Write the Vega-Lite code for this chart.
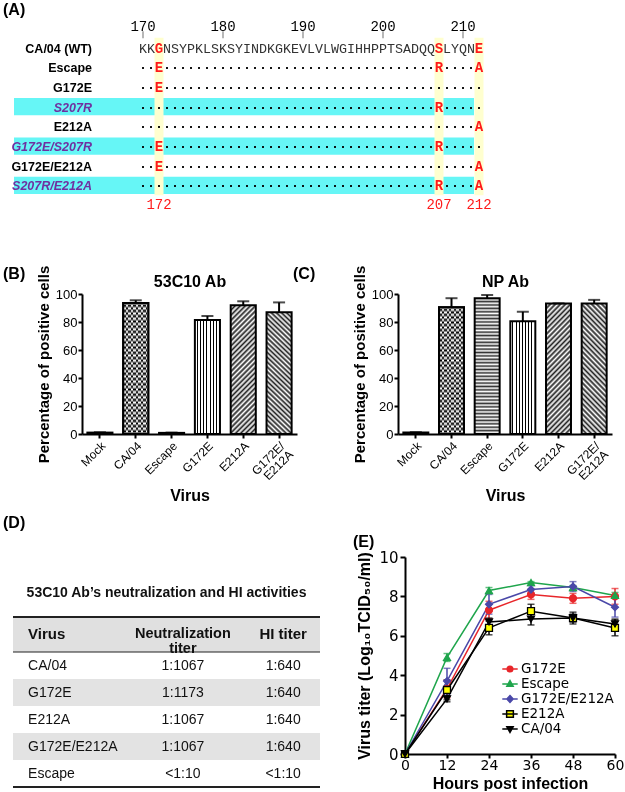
{
  "$schema": "https://vega.github.io/schema/vega-lite/v6.json",
  "background": "white",
  "padding": {"left": 3, "top": 2, "right": 0, "bottom": 0},
  "config": {
    "view": {"stroke": null},
    "font": "Liberation Sans",
    "title": {"font": "Liberation Sans", "fontSize": 16, "fontWeight": "bold", "color": "#000"},
    "axis": {"grid": false, "labelOverlap": false, "domainColor": "#000", "tickColor": "#000", "labelColor": "#000", "titleColor": "#000", "labelFont": "Liberation Sans", "titleFont": "Liberation Sans"}
  },
  "datasets": {
    "seqrows": [
      {"virus": "CA/04 (WT)"}, {"virus": "Escape"}, {"virus": "G172E"}, {"virus": "S207R"},
      {"virus": "E212A"}, {"virus": "G172E/S207R"}, {"virus": "G172E/E212A"}, {"virus": "S207R/E212A"}
    ],
    "segments": [
      {"virus": "CA/04 (WT)", "start": 170, "seq": "KK"},
      {"virus": "CA/04 (WT)", "start": 173, "seq": "NSYPKLSKSYINDKGKEVLVLWGIHHPPTSADQQ"},
      {"virus": "CA/04 (WT)", "start": 208, "seq": "LYQN"},
      {"virus": "Escape", "start": 170, "seq": "··"},
      {"virus": "Escape", "start": 173, "seq": "··································"},
      {"virus": "Escape", "start": 208, "seq": "····"},
      {"virus": "G172E", "start": 170, "seq": "··"},
      {"virus": "G172E", "start": 173, "seq": "········································"},
      {"virus": "S207R", "start": 170, "seq": "·····································"},
      {"virus": "S207R", "start": 208, "seq": "·····"},
      {"virus": "E212A", "start": 170, "seq": "··········································"},
      {"virus": "G172E/S207R", "start": 170, "seq": "··"},
      {"virus": "G172E/S207R", "start": 173, "seq": "··································"},
      {"virus": "G172E/S207R", "start": 208, "seq": "·····"},
      {"virus": "G172E/E212A", "start": 170, "seq": "··"},
      {"virus": "G172E/E212A", "start": 173, "seq": "·······································"},
      {"virus": "S207R/E212A", "start": 170, "seq": "·····································"},
      {"virus": "S207R/E212A", "start": 208, "seq": "····"}
    ],
    "mutations": [
      {"virus": "CA/04 (WT)", "pos": 172, "aa": "G"},
      {"virus": "CA/04 (WT)", "pos": 207, "aa": "S"},
      {"virus": "CA/04 (WT)", "pos": 212, "aa": "E"},
      {"virus": "Escape", "pos": 172, "aa": "E"},
      {"virus": "Escape", "pos": 207, "aa": "R"},
      {"virus": "Escape", "pos": 212, "aa": "A"},
      {"virus": "G172E", "pos": 172, "aa": "E"},
      {"virus": "S207R", "pos": 207, "aa": "R"},
      {"virus": "E212A", "pos": 212, "aa": "A"},
      {"virus": "G172E/S207R", "pos": 172, "aa": "E"},
      {"virus": "G172E/S207R", "pos": 207, "aa": "R"},
      {"virus": "G172E/E212A", "pos": 172, "aa": "E"},
      {"virus": "G172E/E212A", "pos": 212, "aa": "A"},
      {"virus": "S207R/E212A", "pos": 207, "aa": "R"},
      {"virus": "S207R/E212A", "pos": 212, "aa": "A"}
    ],
    "ruler": [{"pos": 170}, {"pos": 180}, {"pos": 190}, {"pos": 200}, {"pos": 210}],
    "sites": [{"pos": 172}, {"pos": 207}, {"pos": 212}],
    "ab53": [
      {"virus": "Mock", "mean": 1.0, "hi": 1.3},
      {"virus": "CA/04", "mean": 93.5, "hi": 95.5},
      {"virus": "Escape", "mean": 0.8, "hi": 1.0},
      {"virus": "G172E", "mean": 81.5, "hi": 84.3},
      {"virus": "E212A", "mean": 92.0, "hi": 94.8},
      {"virus": "G172E/E212A", "mean": 87.0, "hi": 94.0}
    ],
    "abnp": [
      {"virus": "Mock", "mean": 1.0, "hi": 1.3},
      {"virus": "CA/04", "mean": 90.5, "hi": 97.0},
      {"virus": "Escape", "mean": 97.0, "hi": 99.3},
      {"virus": "G172E", "mean": 80.5, "hi": 87.3},
      {"virus": "E212A", "mean": 93.3, "hi": 93.3},
      {"virus": "G172E/E212A", "mean": 93.3, "hi": 95.8}
    ],
    "table": [
      {"virus": "CA/04", "neut": "1:1067", "hi": "1:640"},
      {"virus": "G172E", "neut": "1:1173", "hi": "1:640"},
      {"virus": "E212A", "neut": "1:1067", "hi": "1:640"},
      {"virus": "G172E/E212A", "neut": "1:1067", "hi": "1:640"},
      {"virus": "Escape", "neut": "<1:10", "hi": "<1:10"}
    ],
    "growth": [
      {"series": "G172E", "hours": 0, "mean": 0, "lo": 0, "hi": 0},
      {"series": "G172E", "hours": 12, "mean": 3.3, "lo": 2.85, "hi": 3.75},
      {"series": "G172E", "hours": 24, "mean": 7.3, "lo": 6.85, "hi": 7.75},
      {"series": "G172E", "hours": 36, "mean": 8.1, "lo": 7.85, "hi": 8.35},
      {"series": "G172E", "hours": 48, "mean": 7.9, "lo": 7.65, "hi": 8.15},
      {"series": "G172E", "hours": 60, "mean": 8.0, "lo": 7.6, "hi": 8.4},
      {"series": "Escape", "hours": 0, "mean": 0, "lo": 0, "hi": 0},
      {"series": "Escape", "hours": 12, "mean": 4.9, "lo": 4.7, "hi": 5.1},
      {"series": "Escape", "hours": 24, "mean": 8.3, "lo": 8.15, "hi": 8.45},
      {"series": "Escape", "hours": 36, "mean": 8.7, "lo": 8.65, "hi": 8.75},
      {"series": "Escape", "hours": 48, "mean": 8.45, "lo": 8.35, "hi": 8.55},
      {"series": "Escape", "hours": 60, "mean": 8.05, "lo": 7.9, "hi": 8.2},
      {"series": "G172E/E212A", "hours": 0, "mean": 0, "lo": 0, "hi": 0},
      {"series": "G172E/E212A", "hours": 12, "mean": 3.7, "lo": 3.05, "hi": 4.35},
      {"series": "G172E/E212A", "hours": 24, "mean": 7.6, "lo": 7.1, "hi": 8.1},
      {"series": "G172E/E212A", "hours": 36, "mean": 8.35, "lo": 8.15, "hi": 8.55},
      {"series": "G172E/E212A", "hours": 48, "mean": 8.5, "lo": 8.25, "hi": 8.75},
      {"series": "G172E/E212A", "hours": 60, "mean": 7.45, "lo": 6.95, "hi": 7.95},
      {"series": "E212A", "hours": 0, "mean": 0, "lo": 0, "hi": 0},
      {"series": "E212A", "hours": 12, "mean": 3.25, "lo": 2.75, "hi": 3.75},
      {"series": "E212A", "hours": 24, "mean": 6.4, "lo": 6.05, "hi": 6.75},
      {"series": "E212A", "hours": 36, "mean": 7.25, "lo": 6.9, "hi": 7.6},
      {"series": "E212A", "hours": 48, "mean": 6.9, "lo": 6.7, "hi": 7.1},
      {"series": "E212A", "hours": 60, "mean": 6.4, "lo": 6.0, "hi": 6.8},
      {"series": "CA/04", "hours": 0, "mean": 0, "lo": 0, "hi": 0},
      {"series": "CA/04", "hours": 12, "mean": 2.8, "lo": 2.65, "hi": 2.95},
      {"series": "CA/04", "hours": 24, "mean": 6.7, "lo": 6.5, "hi": 6.9},
      {"series": "CA/04", "hours": 36, "mean": 6.85, "lo": 6.55, "hi": 7.15},
      {"series": "CA/04", "hours": 48, "mean": 6.9, "lo": 6.6, "hi": 7.2},
      {"series": "CA/04", "hours": 60, "mean": 6.6, "lo": 6.35, "hi": 6.85}
    ]
  },
  "spacing": 50,
  "vconcat": [
    {
      "width": 518,
      "height": 197,
      "title": {"text": "(A)", "anchor": "start", "frame": "group", "dx": -79, "offset": 0},
      "layer": [
        {
          "data": {"name": "seqrows"},
          "transform": [{"filter": "indexof(datum.virus, 'S207R') >= 0"}],
          "mark": {"type": "bar", "color": "#66f6f6", "orient": "horizontal", "height": {"band": 0.88}},
          "encoding": {
            "y": {"field": "virus", "type": "nominal", "scale": {"type": "band", "domain": ["ruler", "CA/04 (WT)", "Escape", "G172E", "S207R", "E212A", "G172E/S207R", "G172E/E212A", "S207R/E212A", "pos"], "paddingInner": 0, "paddingOuter": 0}, "axis": null},
            "x": {"datum": 153.875, "type": "quantitative", "scale": {"domain": [162.375, 227.125], "nice": false, "zero": false}, "axis": null},
            "x2": {"datum": 211.375}
          }
        },
        {
          "data": {"name": "sites"},
          "mark": {"type": "rule", "color": "#ffffcf", "strokeWidth": 9},
          "encoding": {
            "x": {"field": "pos", "type": "quantitative"},
            "y": {"datum": "CA/04 (WT)", "type": "nominal", "bandPosition": 0},
            "y2": {"datum": "S207R/E212A", "bandPosition": 1}
          }
        },
        {
          "data": {"name": "ruler"},
          "mark": {"type": "text", "font": "Liberation Mono", "fontSize": 14, "baseline": "middle", "yOffset": -1, "color": "#000"},
          "encoding": {
            "x": {"field": "pos", "type": "quantitative"},
            "y": {"datum": "ruler", "type": "nominal"},
            "text": {"field": "pos", "type": "quantitative"}
          }
        },
        {
          "data": {"name": "ruler"},
          "mark": {"type": "tick", "size": 7, "thickness": 1, "color": "#333", "yOffset": 7},
          "encoding": {
            "x": {"field": "pos", "type": "quantitative"},
            "y": {"datum": "ruler", "type": "nominal"}
          }
        },
        {
          "data": {"name": "seqrows"},
          "transform": [{"filter": "indexof(datum.virus, 'S207R') < 0"}],
          "mark": {"type": "text", "align": "right", "baseline": "middle", "fontSize": 12.5, "fontWeight": "bold", "color": "#000", "yOffset": 1},
          "encoding": {
            "x": {"datum": 163.625, "type": "quantitative"},
            "y": {"field": "virus", "type": "nominal"},
            "text": {"field": "virus"}
          }
        },
        {
          "data": {"name": "seqrows"},
          "transform": [{"filter": "indexof(datum.virus, 'S207R') >= 0"}],
          "mark": {"type": "text", "align": "right", "baseline": "middle", "fontSize": 12.5, "fontWeight": "bold", "fontStyle": "italic", "color": "#7030a0", "yOffset": 1},
          "encoding": {
            "x": {"datum": 163.625, "type": "quantitative"},
            "y": {"field": "virus", "type": "nominal"},
            "text": {"field": "virus"}
          }
        },
        {
          "data": {"name": "segments"},
          "transform": [{"filter": "datum.virus === 'CA/04 (WT)'"}],
          "mark": {"type": "text", "align": "left", "baseline": "middle", "font": "Liberation Mono", "fontSize": 13.333, "color": "#333", "xOffset": -4, "yOffset": 1},
          "encoding": {
            "x": {"field": "start", "type": "quantitative"},
            "y": {"field": "virus", "type": "nominal"},
            "text": {"field": "seq"}
          }
        },
        {
          "data": {"name": "segments"},
          "transform": [{"filter": "datum.virus !== 'CA/04 (WT)'"}],
          "mark": {"type": "text", "align": "left", "baseline": "middle", "font": "Liberation Mono", "fontSize": 13.333, "fontWeight": "bold", "color": "#000", "xOffset": -4, "yOffset": 1},
          "encoding": {
            "x": {"field": "start", "type": "quantitative"},
            "y": {"field": "virus", "type": "nominal"},
            "text": {"field": "seq"}
          }
        },
        {
          "data": {"name": "mutations"},
          "mark": {"type": "text", "align": "center", "baseline": "middle", "font": "Liberation Mono", "fontSize": 14, "fontWeight": "bold", "color": "#ff1a1a", "yOffset": 1},
          "encoding": {
            "x": {"field": "pos", "type": "quantitative"},
            "y": {"field": "virus", "type": "nominal"},
            "text": {"field": "aa"}
          }
        },
        {
          "data": {"name": "sites"},
          "mark": {"type": "text", "align": "center", "baseline": "middle", "font": "Liberation Mono", "fontSize": 14, "color": "#ff1a1a"},
          "encoding": {
            "x": {"field": "pos", "type": "quantitative"},
            "y": {"datum": "pos", "type": "nominal"},
            "text": {"field": "pos", "type": "quantitative"}
          }
        }
      ]
    },
    {
      "spacing": 11,
      "vconcat": [
        {
          "bounds": "flush",
          "spacing": 101,
          "hconcat": [
            {
              "width": 215,
              "height": 140,
              "title": {"text": "(B)", "anchor": "start", "frame": "group", "dx": -79, "offset": -17},
              "data": {"name": "ab53"},
              "layer": [
                {
                  "mark": {"type": "bar", "stroke": "#000", "strokeWidth": 2},
                  "encoding": {
                    "x": {"field": "virus", "type": "nominal", "sort": ["Mock", "CA/04", "Escape", "G172E", "E212A", "G172E/E212A"], "scale": {"paddingInner": 0.3, "paddingOuter": 0.15},
                      "axis": {"title": "Virus", "labelAngle": -45, "labelAlign": "right", "labelBaseline": "top", "labelFontSize": 12, "labelLineHeight": 12, "labelExpr": "datum.value == 'G172E/E212A' ? ['G172E/', 'E212A'] : datum.label", "titleFontSize": 16, "titleFontWeight": "bold", "titlePadding": 2, "domainWidth": 2, "tickWidth": 2, "tickSize": 4, "labelPadding": 2}},
                    "y": {"field": "mean", "type": "quantitative", "scale": {"domain": [0, 100], "nice": false},
                      "axis": {"title": "Percentage of positive cells", "values": [0, 20, 40, 60, 80, 100], "labelOverlap": false, "titleFontSize": 15, "titleFontWeight": "bold", "labelFontSize": 13, "domainWidth": 2, "tickWidth": 2, "tickSize": 4, "labelPadding": 1, "titlePadding": 4}},
                    "fill": {"condition": [
                      {"test": "datum.virus === 'G172E'", "value": {"gradient": "linear", "x1": 0, "y1": 0, "x2": 1, "y2": 0, "stops": [
                        {"offset": 0, "color": "#fff"}, {"offset": 0.084, "color": "#fff"}, {"offset": 0.084, "color": "#000"}, {"offset": 0.125, "color": "#000"},
                        {"offset": 0.125, "color": "#fff"}, {"offset": 0.209, "color": "#fff"}, {"offset": 0.209, "color": "#000"}, {"offset": 0.25, "color": "#000"},
                        {"offset": 0.25, "color": "#fff"}, {"offset": 0.334, "color": "#fff"}, {"offset": 0.334, "color": "#000"}, {"offset": 0.375, "color": "#000"},
                        {"offset": 0.375, "color": "#fff"}, {"offset": 0.459, "color": "#fff"}, {"offset": 0.459, "color": "#000"}, {"offset": 0.5, "color": "#000"},
                        {"offset": 0.5, "color": "#fff"}, {"offset": 0.584, "color": "#fff"}, {"offset": 0.584, "color": "#000"}, {"offset": 0.625, "color": "#000"},
                        {"offset": 0.625, "color": "#fff"}, {"offset": 0.709, "color": "#fff"}, {"offset": 0.709, "color": "#000"}, {"offset": 0.75, "color": "#000"},
                        {"offset": 0.75, "color": "#fff"}, {"offset": 0.834, "color": "#fff"}, {"offset": 0.834, "color": "#000"}, {"offset": 0.875, "color": "#000"},
                        {"offset": 0.875, "color": "#fff"}, {"offset": 1, "color": "#fff"}]}},
                      {"test": "datum.virus === 'E212A'", "value": {"gradient": "linear", "x1": 0, "y1": 0, "x2": 1, "y2": 5.1, "stops": [
                        {"offset": 0, "color": "#222"}, {"offset": 0.00375, "color": "#fff"}, {"offset": 0.0075, "color": "#222"}, {"offset": 0.01125, "color": "#fff"},
                        {"offset": 0.015, "color": "#222"}, {"offset": 0.01875, "color": "#fff"}, {"offset": 0.0225, "color": "#222"}, {"offset": 0.02625, "color": "#fff"},
                        {"offset": 0.03, "color": "#222"}, {"offset": 0.03375, "color": "#fff"}, {"offset": 0.0375, "color": "#222"}, {"offset": 0.04125, "color": "#fff"},
                        {"offset": 0.045, "color": "#222"}, {"offset": 0.04875, "color": "#fff"}, {"offset": 0.0525, "color": "#222"}, {"offset": 0.05625, "color": "#fff"},
                        {"offset": 0.06, "color": "#222"}, {"offset": 0.06375, "color": "#fff"}, {"offset": 0.0675, "color": "#222"}, {"offset": 0.07125, "color": "#fff"},
                        {"offset": 0.075, "color": "#222"}, {"offset": 0.07875, "color": "#fff"}, {"offset": 0.0825, "color": "#222"}, {"offset": 0.08625, "color": "#fff"},
                        {"offset": 0.09, "color": "#222"}, {"offset": 0.09375, "color": "#fff"}, {"offset": 0.0975, "color": "#222"}, {"offset": 0.10125, "color": "#fff"},
                        {"offset": 0.105, "color": "#222"}, {"offset": 0.10875, "color": "#fff"}, {"offset": 0.1125, "color": "#222"}, {"offset": 0.11625, "color": "#fff"},
                        {"offset": 0.12, "color": "#222"}, {"offset": 0.12375, "color": "#fff"}, {"offset": 0.1275, "color": "#222"}, {"offset": 0.13125, "color": "#fff"},
                        {"offset": 0.135, "color": "#222"}, {"offset": 0.13875, "color": "#fff"}, {"offset": 0.1425, "color": "#222"}, {"offset": 0.14625, "color": "#fff"},
                        {"offset": 0.15, "color": "#222"}, {"offset": 0.15375, "color": "#fff"}, {"offset": 0.1575, "color": "#222"}, {"offset": 0.16125, "color": "#fff"},
                        {"offset": 0.165, "color": "#222"}, {"offset": 0.16875, "color": "#fff"}, {"offset": 0.1725, "color": "#222"}, {"offset": 0.17625, "color": "#fff"},
                        {"offset": 0.18, "color": "#222"}, {"offset": 0.18375, "color": "#fff"}, {"offset": 0.1875, "color": "#222"}, {"offset": 0.19125, "color": "#fff"},
                        {"offset": 0.195, "color": "#222"}, {"offset": 0.19875, "color": "#fff"}, {"offset": 0.2025, "color": "#222"}, {"offset": 0.20625, "color": "#fff"},
                        {"offset": 0.21, "color": "#222"}, {"offset": 0.21375, "color": "#fff"}, {"offset": 0.2175, "color": "#222"}, {"offset": 0.22125, "color": "#fff"},
                        {"offset": 0.225, "color": "#222"}, {"offset": 0.22875, "color": "#fff"}, {"offset": 0.2325, "color": "#222"}]}},
                      {"test": "datum.virus === 'G172E/E212A'", "value": {"gradient": "linear", "x1": 0, "y1": 1, "x2": 1, "y2": -4.1, "stops": [
                        {"offset": 0, "color": "#222"}, {"offset": 0.00375, "color": "#fff"}, {"offset": 0.0075, "color": "#222"}, {"offset": 0.01125, "color": "#fff"},
                        {"offset": 0.015, "color": "#222"}, {"offset": 0.01875, "color": "#fff"}, {"offset": 0.0225, "color": "#222"}, {"offset": 0.02625, "color": "#fff"},
                        {"offset": 0.03, "color": "#222"}, {"offset": 0.03375, "color": "#fff"}, {"offset": 0.0375, "color": "#222"}, {"offset": 0.04125, "color": "#fff"},
                        {"offset": 0.045, "color": "#222"}, {"offset": 0.04875, "color": "#fff"}, {"offset": 0.0525, "color": "#222"}, {"offset": 0.05625, "color": "#fff"},
                        {"offset": 0.06, "color": "#222"}, {"offset": 0.06375, "color": "#fff"}, {"offset": 0.0675, "color": "#222"}, {"offset": 0.07125, "color": "#fff"},
                        {"offset": 0.075, "color": "#222"}, {"offset": 0.07875, "color": "#fff"}, {"offset": 0.0825, "color": "#222"}, {"offset": 0.08625, "color": "#fff"},
                        {"offset": 0.09, "color": "#222"}, {"offset": 0.09375, "color": "#fff"}, {"offset": 0.0975, "color": "#222"}, {"offset": 0.10125, "color": "#fff"},
                        {"offset": 0.105, "color": "#222"}, {"offset": 0.10875, "color": "#fff"}, {"offset": 0.1125, "color": "#222"}, {"offset": 0.11625, "color": "#fff"},
                        {"offset": 0.12, "color": "#222"}, {"offset": 0.12375, "color": "#fff"}, {"offset": 0.1275, "color": "#222"}, {"offset": 0.13125, "color": "#fff"},
                        {"offset": 0.135, "color": "#222"}, {"offset": 0.13875, "color": "#fff"}, {"offset": 0.1425, "color": "#222"}, {"offset": 0.14625, "color": "#fff"},
                        {"offset": 0.15, "color": "#222"}, {"offset": 0.15375, "color": "#fff"}, {"offset": 0.1575, "color": "#222"}, {"offset": 0.16125, "color": "#fff"},
                        {"offset": 0.165, "color": "#222"}, {"offset": 0.16875, "color": "#fff"}, {"offset": 0.1725, "color": "#222"}, {"offset": 0.17625, "color": "#fff"},
                        {"offset": 0.18, "color": "#222"}, {"offset": 0.18375, "color": "#fff"}, {"offset": 0.1875, "color": "#222"}, {"offset": 0.19125, "color": "#fff"},
                        {"offset": 0.195, "color": "#222"}, {"offset": 0.19875, "color": "#fff"}, {"offset": 0.2025, "color": "#222"}, {"offset": 0.20625, "color": "#fff"},
                        {"offset": 0.21, "color": "#222"}, {"offset": 0.21375, "color": "#fff"}, {"offset": 0.2175, "color": "#222"}, {"offset": 0.22125, "color": "#fff"},
                        {"offset": 0.225, "color": "#222"}, {"offset": 0.22875, "color": "#fff"}, {"offset": 0.2325, "color": "#222"}]}},
                      {"test": "datum.virus === 'CA/04'", "value": {"gradient": "linear", "x1": 0, "y1": 0, "x2": 1, "y2": 0, "stops": [
                        {"offset": 0, "color": "#000"}, {"offset": 0.1, "color": "#000"}, {"offset": 0.1, "color": "#fff"}, {"offset": 0.2, "color": "#fff"},
                        {"offset": 0.2, "color": "#000"}, {"offset": 0.3, "color": "#000"}, {"offset": 0.3, "color": "#fff"}, {"offset": 0.4, "color": "#fff"},
                        {"offset": 0.4, "color": "#000"}, {"offset": 0.5, "color": "#000"}, {"offset": 0.5, "color": "#fff"}, {"offset": 0.6, "color": "#fff"},
                        {"offset": 0.6, "color": "#000"}, {"offset": 0.7, "color": "#000"}, {"offset": 0.7, "color": "#fff"}, {"offset": 0.8, "color": "#fff"},
                        {"offset": 0.8, "color": "#000"}, {"offset": 0.9, "color": "#000"}, {"offset": 0.9, "color": "#fff"}, {"offset": 1, "color": "#fff"}]}},
                      {"test": "datum.virus === 'Escape'", "value": "#a9a9a9"}
                    ], "value": "#777"}
                  }
                },
                {
                  "transform": [{"filter": "datum.virus === 'CA/04'"}],
                  "mark": {"type": "bar", "blend": "difference", "strokeWidth": 0, "fill": {"gradient": "linear", "x1": 0, "y1": 0, "x2": 0, "y2": 1, "stops": [
                    {"offset": 0, "color": "#fff"}, {"offset": 0.02, "color": "rgba(255,255,255,0)"}, {"offset": 0.04, "color": "#fff"}, {"offset": 0.06, "color": "rgba(255,255,255,0)"},
                    {"offset": 0.08, "color": "#fff"}, {"offset": 0.1, "color": "rgba(255,255,255,0)"}, {"offset": 0.12, "color": "#fff"}, {"offset": 0.14, "color": "rgba(255,255,255,0)"},
                    {"offset": 0.16, "color": "#fff"}, {"offset": 0.18, "color": "rgba(255,255,255,0)"}, {"offset": 0.2, "color": "#fff"}, {"offset": 0.22, "color": "rgba(255,255,255,0)"},
                    {"offset": 0.24, "color": "#fff"}, {"offset": 0.26, "color": "rgba(255,255,255,0)"}, {"offset": 0.28, "color": "#fff"}, {"offset": 0.3, "color": "rgba(255,255,255,0)"},
                    {"offset": 0.32, "color": "#fff"}, {"offset": 0.34, "color": "rgba(255,255,255,0)"}, {"offset": 0.36, "color": "#fff"}, {"offset": 0.38, "color": "rgba(255,255,255,0)"},
                    {"offset": 0.4, "color": "#fff"}, {"offset": 0.42, "color": "rgba(255,255,255,0)"}, {"offset": 0.44, "color": "#fff"}, {"offset": 0.46, "color": "rgba(255,255,255,0)"},
                    {"offset": 0.48, "color": "#fff"}, {"offset": 0.5, "color": "rgba(255,255,255,0)"}, {"offset": 0.52, "color": "#fff"}, {"offset": 0.54, "color": "rgba(255,255,255,0)"},
                    {"offset": 0.56, "color": "#fff"}, {"offset": 0.58, "color": "rgba(255,255,255,0)"}, {"offset": 0.6, "color": "#fff"}, {"offset": 0.62, "color": "rgba(255,255,255,0)"},
                    {"offset": 0.64, "color": "#fff"}, {"offset": 0.66, "color": "rgba(255,255,255,0)"}, {"offset": 0.68, "color": "#fff"}, {"offset": 0.7, "color": "rgba(255,255,255,0)"},
                    {"offset": 0.72, "color": "#fff"}, {"offset": 0.74, "color": "rgba(255,255,255,0)"}, {"offset": 0.76, "color": "#fff"}, {"offset": 0.78, "color": "rgba(255,255,255,0)"},
                    {"offset": 0.8, "color": "#fff"}, {"offset": 0.82, "color": "rgba(255,255,255,0)"}, {"offset": 0.84, "color": "#fff"}, {"offset": 0.86, "color": "rgba(255,255,255,0)"},
                    {"offset": 0.88, "color": "#fff"}, {"offset": 0.9, "color": "rgba(255,255,255,0)"}, {"offset": 0.92, "color": "#fff"}, {"offset": 0.94, "color": "rgba(255,255,255,0)"},
                    {"offset": 0.96, "color": "#fff"}, {"offset": 0.98, "color": "rgba(255,255,255,0)"}, {"offset": 1, "color": "#fff"}]}},
                  "encoding": {
                    "x": {"field": "virus", "type": "nominal", "sort": ["Mock", "CA/04", "Escape", "G172E", "E212A", "G172E/E212A"], "axis": null},
                    "y": {"field": "mean", "type": "quantitative",
                      "axis": {"title": "Percentage of positive cells", "values": [0, 20, 40, 60, 80, 100], "labelOverlap": false, "titleFontSize": 15, "titleFontWeight": "bold", "labelFontSize": 13, "domainWidth": 2, "tickWidth": 2, "tickSize": 4, "labelPadding": 1, "titlePadding": 4}}
                  }
                },
                {
                  "transform": [{"filter": "datum.virus === 'CA/04'"}],
                  "mark": {"type": "bar", "filled": false, "stroke": "#000", "strokeWidth": 2},
                  "encoding": {
                    "x": {"field": "virus", "type": "nominal", "sort": ["Mock", "CA/04", "Escape", "G172E", "E212A", "G172E/E212A"], "axis": null},
                    "y": {"field": "mean", "type": "quantitative",
                      "axis": {"title": "Percentage of positive cells", "values": [0, 20, 40, 60, 80, 100], "labelOverlap": false, "titleFontSize": 15, "titleFontWeight": "bold", "labelFontSize": 13, "domainWidth": 2, "tickWidth": 2, "tickSize": 4, "labelPadding": 1, "titlePadding": 4}}
                  }
                },
                {
                  "mark": {"type": "rule", "color": "#000", "strokeWidth": 2},
                  "encoding": {
                    "x": {"field": "virus", "type": "nominal", "sort": ["Mock", "CA/04", "Escape", "G172E", "E212A", "G172E/E212A"],
                      "axis": {"orient": "top", "title": "53C10 Ab", "labels": false, "ticks": false, "domain": false, "titleFontSize": 16, "titleFontWeight": "bold", "titlePadding": 5}},
                    "y": {"field": "mean", "type": "quantitative",
                      "axis": {"title": "Percentage of positive cells", "values": [0, 20, 40, 60, 80, 100], "labelOverlap": false, "titleFontSize": 15, "titleFontWeight": "bold", "labelFontSize": 13, "domainWidth": 2, "tickWidth": 2, "tickSize": 4, "labelPadding": 1, "titlePadding": 4}},
                    "y2": {"field": "hi"}
                  }
                },
                {
                  "mark": {"type": "tick", "color": "#000", "thickness": 2, "size": 12},
                  "encoding": {
                    "x": {"field": "virus", "type": "nominal", "sort": ["Mock", "CA/04", "Escape", "G172E", "E212A", "G172E/E212A"], "axis": null},
                    "y": {"field": "hi", "type": "quantitative",
                      "axis": {"title": "Percentage of positive cells", "values": [0, 20, 40, 60, 80, 100], "labelOverlap": false, "titleFontSize": 15, "titleFontWeight": "bold", "labelFontSize": 13, "domainWidth": 2, "tickWidth": 2, "tickSize": 4, "labelPadding": 1, "titlePadding": 4}}
                  }
                }
              ],
              "resolve": {"axis": {"x": "independent"}}
            },
            {
              "width": 214,
              "height": 140,
              "title": {"text": "(C)", "anchor": "start", "frame": "group", "dx": -105, "offset": -17},
              "data": {"name": "abnp"},
              "layer": [
                {
                  "mark": {"type": "bar", "stroke": "#000", "strokeWidth": 2},
                  "encoding": {
                    "x": {"field": "virus", "type": "nominal", "sort": ["Mock", "CA/04", "Escape", "G172E", "E212A", "G172E/E212A"], "scale": {"paddingInner": 0.3, "paddingOuter": 0.15},
                      "axis": {"title": "Virus", "labelAngle": -45, "labelAlign": "right", "labelBaseline": "top", "labelFontSize": 12, "labelLineHeight": 12, "labelExpr": "datum.value == 'G172E/E212A' ? ['G172E/', 'E212A'] : datum.label", "titleFontSize": 16, "titleFontWeight": "bold", "titlePadding": 2, "domainWidth": 2, "tickWidth": 2, "tickSize": 4, "labelPadding": 2}},
                    "y": {"field": "mean", "type": "quantitative", "scale": {"domain": [0, 100], "nice": false},
                      "axis": {"title": "Percentage of positive cells", "values": [0, 20, 40, 60, 80, 100], "labelOverlap": false, "titleFontSize": 15, "titleFontWeight": "bold", "labelFontSize": 13, "domainWidth": 2, "tickWidth": 2, "tickSize": 4, "labelPadding": 1, "titlePadding": 4}},
                    "fill": {"condition": [
                      {"test": "datum.virus === 'G172E'", "value": {"gradient": "linear", "x1": 0, "y1": 0, "x2": 1, "y2": 0, "stops": [
                        {"offset": 0, "color": "#fff"}, {"offset": 0.084, "color": "#fff"}, {"offset": 0.084, "color": "#000"}, {"offset": 0.125, "color": "#000"},
                        {"offset": 0.125, "color": "#fff"}, {"offset": 0.209, "color": "#fff"}, {"offset": 0.209, "color": "#000"}, {"offset": 0.25, "color": "#000"},
                        {"offset": 0.25, "color": "#fff"}, {"offset": 0.334, "color": "#fff"}, {"offset": 0.334, "color": "#000"}, {"offset": 0.375, "color": "#000"},
                        {"offset": 0.375, "color": "#fff"}, {"offset": 0.459, "color": "#fff"}, {"offset": 0.459, "color": "#000"}, {"offset": 0.5, "color": "#000"},
                        {"offset": 0.5, "color": "#fff"}, {"offset": 0.584, "color": "#fff"}, {"offset": 0.584, "color": "#000"}, {"offset": 0.625, "color": "#000"},
                        {"offset": 0.625, "color": "#fff"}, {"offset": 0.709, "color": "#fff"}, {"offset": 0.709, "color": "#000"}, {"offset": 0.75, "color": "#000"},
                        {"offset": 0.75, "color": "#fff"}, {"offset": 0.834, "color": "#fff"}, {"offset": 0.834, "color": "#000"}, {"offset": 0.875, "color": "#000"},
                        {"offset": 0.875, "color": "#fff"}, {"offset": 1, "color": "#fff"}]}},
                      {"test": "datum.virus === 'E212A'", "value": {"gradient": "linear", "x1": 0, "y1": 0, "x2": 1, "y2": 5.1, "stops": [
                        {"offset": 0, "color": "#222"}, {"offset": 0.00375, "color": "#fff"}, {"offset": 0.0075, "color": "#222"}, {"offset": 0.01125, "color": "#fff"},
                        {"offset": 0.015, "color": "#222"}, {"offset": 0.01875, "color": "#fff"}, {"offset": 0.0225, "color": "#222"}, {"offset": 0.02625, "color": "#fff"},
                        {"offset": 0.03, "color": "#222"}, {"offset": 0.03375, "color": "#fff"}, {"offset": 0.0375, "color": "#222"}, {"offset": 0.04125, "color": "#fff"},
                        {"offset": 0.045, "color": "#222"}, {"offset": 0.04875, "color": "#fff"}, {"offset": 0.0525, "color": "#222"}, {"offset": 0.05625, "color": "#fff"},
                        {"offset": 0.06, "color": "#222"}, {"offset": 0.06375, "color": "#fff"}, {"offset": 0.0675, "color": "#222"}, {"offset": 0.07125, "color": "#fff"},
                        {"offset": 0.075, "color": "#222"}, {"offset": 0.07875, "color": "#fff"}, {"offset": 0.0825, "color": "#222"}, {"offset": 0.08625, "color": "#fff"},
                        {"offset": 0.09, "color": "#222"}, {"offset": 0.09375, "color": "#fff"}, {"offset": 0.0975, "color": "#222"}, {"offset": 0.10125, "color": "#fff"},
                        {"offset": 0.105, "color": "#222"}, {"offset": 0.10875, "color": "#fff"}, {"offset": 0.1125, "color": "#222"}, {"offset": 0.11625, "color": "#fff"},
                        {"offset": 0.12, "color": "#222"}, {"offset": 0.12375, "color": "#fff"}, {"offset": 0.1275, "color": "#222"}, {"offset": 0.13125, "color": "#fff"},
                        {"offset": 0.135, "color": "#222"}, {"offset": 0.13875, "color": "#fff"}, {"offset": 0.1425, "color": "#222"}, {"offset": 0.14625, "color": "#fff"},
                        {"offset": 0.15, "color": "#222"}, {"offset": 0.15375, "color": "#fff"}, {"offset": 0.1575, "color": "#222"}, {"offset": 0.16125, "color": "#fff"},
                        {"offset": 0.165, "color": "#222"}, {"offset": 0.16875, "color": "#fff"}, {"offset": 0.1725, "color": "#222"}, {"offset": 0.17625, "color": "#fff"},
                        {"offset": 0.18, "color": "#222"}, {"offset": 0.18375, "color": "#fff"}, {"offset": 0.1875, "color": "#222"}, {"offset": 0.19125, "color": "#fff"},
                        {"offset": 0.195, "color": "#222"}, {"offset": 0.19875, "color": "#fff"}, {"offset": 0.2025, "color": "#222"}, {"offset": 0.20625, "color": "#fff"},
                        {"offset": 0.21, "color": "#222"}, {"offset": 0.21375, "color": "#fff"}, {"offset": 0.2175, "color": "#222"}, {"offset": 0.22125, "color": "#fff"},
                        {"offset": 0.225, "color": "#222"}, {"offset": 0.22875, "color": "#fff"}, {"offset": 0.2325, "color": "#222"}]}},
                      {"test": "datum.virus === 'G172E/E212A'", "value": {"gradient": "linear", "x1": 0, "y1": 1, "x2": 1, "y2": -4.1, "stops": [
                        {"offset": 0, "color": "#222"}, {"offset": 0.00375, "color": "#fff"}, {"offset": 0.0075, "color": "#222"}, {"offset": 0.01125, "color": "#fff"},
                        {"offset": 0.015, "color": "#222"}, {"offset": 0.01875, "color": "#fff"}, {"offset": 0.0225, "color": "#222"}, {"offset": 0.02625, "color": "#fff"},
                        {"offset": 0.03, "color": "#222"}, {"offset": 0.03375, "color": "#fff"}, {"offset": 0.0375, "color": "#222"}, {"offset": 0.04125, "color": "#fff"},
                        {"offset": 0.045, "color": "#222"}, {"offset": 0.04875, "color": "#fff"}, {"offset": 0.0525, "color": "#222"}, {"offset": 0.05625, "color": "#fff"},
                        {"offset": 0.06, "color": "#222"}, {"offset": 0.06375, "color": "#fff"}, {"offset": 0.0675, "color": "#222"}, {"offset": 0.07125, "color": "#fff"},
                        {"offset": 0.075, "color": "#222"}, {"offset": 0.07875, "color": "#fff"}, {"offset": 0.0825, "color": "#222"}, {"offset": 0.08625, "color": "#fff"},
                        {"offset": 0.09, "color": "#222"}, {"offset": 0.09375, "color": "#fff"}, {"offset": 0.0975, "color": "#222"}, {"offset": 0.10125, "color": "#fff"},
                        {"offset": 0.105, "color": "#222"}, {"offset": 0.10875, "color": "#fff"}, {"offset": 0.1125, "color": "#222"}, {"offset": 0.11625, "color": "#fff"},
                        {"offset": 0.12, "color": "#222"}, {"offset": 0.12375, "color": "#fff"}, {"offset": 0.1275, "color": "#222"}, {"offset": 0.13125, "color": "#fff"},
                        {"offset": 0.135, "color": "#222"}, {"offset": 0.13875, "color": "#fff"}, {"offset": 0.1425, "color": "#222"}, {"offset": 0.14625, "color": "#fff"},
                        {"offset": 0.15, "color": "#222"}, {"offset": 0.15375, "color": "#fff"}, {"offset": 0.1575, "color": "#222"}, {"offset": 0.16125, "color": "#fff"},
                        {"offset": 0.165, "color": "#222"}, {"offset": 0.16875, "color": "#fff"}, {"offset": 0.1725, "color": "#222"}, {"offset": 0.17625, "color": "#fff"},
                        {"offset": 0.18, "color": "#222"}, {"offset": 0.18375, "color": "#fff"}, {"offset": 0.1875, "color": "#222"}, {"offset": 0.19125, "color": "#fff"},
                        {"offset": 0.195, "color": "#222"}, {"offset": 0.19875, "color": "#fff"}, {"offset": 0.2025, "color": "#222"}, {"offset": 0.20625, "color": "#fff"},
                        {"offset": 0.21, "color": "#222"}, {"offset": 0.21375, "color": "#fff"}, {"offset": 0.2175, "color": "#222"}, {"offset": 0.22125, "color": "#fff"},
                        {"offset": 0.225, "color": "#222"}, {"offset": 0.22875, "color": "#fff"}, {"offset": 0.2325, "color": "#222"}]}},
                      {"test": "datum.virus === 'Escape'", "value": {"gradient": "linear", "x1": 0, "y1": 0, "x2": 0, "y2": 1, "stops": [
                        {"offset": 0, "color": "#333"}, {"offset": 0.0125, "color": "#fff"}, {"offset": 0.025, "color": "#333"}, {"offset": 0.0375, "color": "#fff"},
                        {"offset": 0.05, "color": "#333"}, {"offset": 0.0625, "color": "#fff"}, {"offset": 0.075, "color": "#333"}, {"offset": 0.0875, "color": "#fff"},
                        {"offset": 0.1, "color": "#333"}, {"offset": 0.1125, "color": "#fff"}, {"offset": 0.125, "color": "#333"}, {"offset": 0.1375, "color": "#fff"},
                        {"offset": 0.15, "color": "#333"}, {"offset": 0.1625, "color": "#fff"}, {"offset": 0.175, "color": "#333"}, {"offset": 0.1875, "color": "#fff"},
                        {"offset": 0.2, "color": "#333"}, {"offset": 0.2125, "color": "#fff"}, {"offset": 0.225, "color": "#333"}, {"offset": 0.2375, "color": "#fff"},
                        {"offset": 0.25, "color": "#333"}, {"offset": 0.2625, "color": "#fff"}, {"offset": 0.275, "color": "#333"}, {"offset": 0.2875, "color": "#fff"},
                        {"offset": 0.3, "color": "#333"}, {"offset": 0.3125, "color": "#fff"}, {"offset": 0.325, "color": "#333"}, {"offset": 0.3375, "color": "#fff"},
                        {"offset": 0.35, "color": "#333"}, {"offset": 0.3625, "color": "#fff"}, {"offset": 0.375, "color": "#333"}, {"offset": 0.3875, "color": "#fff"},
                        {"offset": 0.4, "color": "#333"}, {"offset": 0.4125, "color": "#fff"}, {"offset": 0.425, "color": "#333"}, {"offset": 0.4375, "color": "#fff"},
                        {"offset": 0.45, "color": "#333"}, {"offset": 0.4625, "color": "#fff"}, {"offset": 0.475, "color": "#333"}, {"offset": 0.4875, "color": "#fff"},
                        {"offset": 0.5, "color": "#333"}, {"offset": 0.5125, "color": "#fff"}, {"offset": 0.525, "color": "#333"}, {"offset": 0.5375, "color": "#fff"},
                        {"offset": 0.55, "color": "#333"}, {"offset": 0.5625, "color": "#fff"}, {"offset": 0.575, "color": "#333"}, {"offset": 0.5875, "color": "#fff"},
                        {"offset": 0.6, "color": "#333"}, {"offset": 0.6125, "color": "#fff"}, {"offset": 0.625, "color": "#333"}, {"offset": 0.6375, "color": "#fff"},
                        {"offset": 0.65, "color": "#333"}, {"offset": 0.6625, "color": "#fff"}, {"offset": 0.675, "color": "#333"}, {"offset": 0.6875, "color": "#fff"},
                        {"offset": 0.7, "color": "#333"}, {"offset": 0.7125, "color": "#fff"}, {"offset": 0.725, "color": "#333"}, {"offset": 0.7375, "color": "#fff"},
                        {"offset": 0.75, "color": "#333"}, {"offset": 0.7625, "color": "#fff"}, {"offset": 0.775, "color": "#333"}, {"offset": 0.7875, "color": "#fff"},
                        {"offset": 0.8, "color": "#333"}, {"offset": 0.8125, "color": "#fff"}, {"offset": 0.825, "color": "#333"}, {"offset": 0.8375, "color": "#fff"},
                        {"offset": 0.85, "color": "#333"}, {"offset": 0.8625, "color": "#fff"}, {"offset": 0.875, "color": "#333"}, {"offset": 0.8875, "color": "#fff"},
                        {"offset": 0.9, "color": "#333"}, {"offset": 0.9125, "color": "#fff"}, {"offset": 0.925, "color": "#333"}, {"offset": 0.9375, "color": "#fff"},
                        {"offset": 0.95, "color": "#333"}, {"offset": 0.9625, "color": "#fff"}, {"offset": 0.975, "color": "#333"}, {"offset": 0.9875, "color": "#fff"},
                        {"offset": 1, "color": "#333"}]}},
                      {"test": "datum.virus === 'CA/04'", "value": {"gradient": "linear", "x1": 0, "y1": 0, "x2": 1, "y2": 0, "stops": [
                        {"offset": 0, "color": "#000"}, {"offset": 0.1, "color": "#000"}, {"offset": 0.1, "color": "#fff"}, {"offset": 0.2, "color": "#fff"},
                        {"offset": 0.2, "color": "#000"}, {"offset": 0.3, "color": "#000"}, {"offset": 0.3, "color": "#fff"}, {"offset": 0.4, "color": "#fff"},
                        {"offset": 0.4, "color": "#000"}, {"offset": 0.5, "color": "#000"}, {"offset": 0.5, "color": "#fff"}, {"offset": 0.6, "color": "#fff"},
                        {"offset": 0.6, "color": "#000"}, {"offset": 0.7, "color": "#000"}, {"offset": 0.7, "color": "#fff"}, {"offset": 0.8, "color": "#fff"},
                        {"offset": 0.8, "color": "#000"}, {"offset": 0.9, "color": "#000"}, {"offset": 0.9, "color": "#fff"}, {"offset": 1, "color": "#fff"}]}}
                    ], "value": "#777"}
                  }
                },
                {
                  "transform": [{"filter": "datum.virus === 'CA/04'"}],
                  "mark": {"type": "bar", "blend": "difference", "strokeWidth": 0, "fill": {"gradient": "linear", "x1": 0, "y1": 0, "x2": 0, "y2": 1, "stops": [
                    {"offset": 0, "color": "#fff"}, {"offset": 0.02, "color": "rgba(255,255,255,0)"}, {"offset": 0.04, "color": "#fff"}, {"offset": 0.06, "color": "rgba(255,255,255,0)"},
                    {"offset": 0.08, "color": "#fff"}, {"offset": 0.1, "color": "rgba(255,255,255,0)"}, {"offset": 0.12, "color": "#fff"}, {"offset": 0.14, "color": "rgba(255,255,255,0)"},
                    {"offset": 0.16, "color": "#fff"}, {"offset": 0.18, "color": "rgba(255,255,255,0)"}, {"offset": 0.2, "color": "#fff"}, {"offset": 0.22, "color": "rgba(255,255,255,0)"},
                    {"offset": 0.24, "color": "#fff"}, {"offset": 0.26, "color": "rgba(255,255,255,0)"}, {"offset": 0.28, "color": "#fff"}, {"offset": 0.3, "color": "rgba(255,255,255,0)"},
                    {"offset": 0.32, "color": "#fff"}, {"offset": 0.34, "color": "rgba(255,255,255,0)"}, {"offset": 0.36, "color": "#fff"}, {"offset": 0.38, "color": "rgba(255,255,255,0)"},
                    {"offset": 0.4, "color": "#fff"}, {"offset": 0.42, "color": "rgba(255,255,255,0)"}, {"offset": 0.44, "color": "#fff"}, {"offset": 0.46, "color": "rgba(255,255,255,0)"},
                    {"offset": 0.48, "color": "#fff"}, {"offset": 0.5, "color": "rgba(255,255,255,0)"}, {"offset": 0.52, "color": "#fff"}, {"offset": 0.54, "color": "rgba(255,255,255,0)"},
                    {"offset": 0.56, "color": "#fff"}, {"offset": 0.58, "color": "rgba(255,255,255,0)"}, {"offset": 0.6, "color": "#fff"}, {"offset": 0.62, "color": "rgba(255,255,255,0)"},
                    {"offset": 0.64, "color": "#fff"}, {"offset": 0.66, "color": "rgba(255,255,255,0)"}, {"offset": 0.68, "color": "#fff"}, {"offset": 0.7, "color": "rgba(255,255,255,0)"},
                    {"offset": 0.72, "color": "#fff"}, {"offset": 0.74, "color": "rgba(255,255,255,0)"}, {"offset": 0.76, "color": "#fff"}, {"offset": 0.78, "color": "rgba(255,255,255,0)"},
                    {"offset": 0.8, "color": "#fff"}, {"offset": 0.82, "color": "rgba(255,255,255,0)"}, {"offset": 0.84, "color": "#fff"}, {"offset": 0.86, "color": "rgba(255,255,255,0)"},
                    {"offset": 0.88, "color": "#fff"}, {"offset": 0.9, "color": "rgba(255,255,255,0)"}, {"offset": 0.92, "color": "#fff"}, {"offset": 0.94, "color": "rgba(255,255,255,0)"},
                    {"offset": 0.96, "color": "#fff"}, {"offset": 0.98, "color": "rgba(255,255,255,0)"}, {"offset": 1, "color": "#fff"}]}},
                  "encoding": {
                    "x": {"field": "virus", "type": "nominal", "sort": ["Mock", "CA/04", "Escape", "G172E", "E212A", "G172E/E212A"], "axis": null},
                    "y": {"field": "mean", "type": "quantitative",
                      "axis": {"title": "Percentage of positive cells", "values": [0, 20, 40, 60, 80, 100], "labelOverlap": false, "titleFontSize": 15, "titleFontWeight": "bold", "labelFontSize": 13, "domainWidth": 2, "tickWidth": 2, "tickSize": 4, "labelPadding": 1, "titlePadding": 4}}
                  }
                },
                {
                  "transform": [{"filter": "datum.virus === 'CA/04'"}],
                  "mark": {"type": "bar", "filled": false, "stroke": "#000", "strokeWidth": 2},
                  "encoding": {
                    "x": {"field": "virus", "type": "nominal", "sort": ["Mock", "CA/04", "Escape", "G172E", "E212A", "G172E/E212A"], "axis": null},
                    "y": {"field": "mean", "type": "quantitative",
                      "axis": {"title": "Percentage of positive cells", "values": [0, 20, 40, 60, 80, 100], "labelOverlap": false, "titleFontSize": 15, "titleFontWeight": "bold", "labelFontSize": 13, "domainWidth": 2, "tickWidth": 2, "tickSize": 4, "labelPadding": 1, "titlePadding": 4}}
                  }
                },
                {
                  "mark": {"type": "rule", "color": "#000", "strokeWidth": 2},
                  "encoding": {
                    "x": {"field": "virus", "type": "nominal", "sort": ["Mock", "CA/04", "Escape", "G172E", "E212A", "G172E/E212A"],
                      "axis": {"orient": "top", "title": "NP Ab", "labels": false, "ticks": false, "domain": false, "titleFontSize": 16, "titleFontWeight": "bold", "titlePadding": 5}},
                    "y": {"field": "mean", "type": "quantitative",
                      "axis": {"title": "Percentage of positive cells", "values": [0, 20, 40, 60, 80, 100], "labelOverlap": false, "titleFontSize": 15, "titleFontWeight": "bold", "labelFontSize": 13, "domainWidth": 2, "tickWidth": 2, "tickSize": 4, "labelPadding": 1, "titlePadding": 4}},
                    "y2": {"field": "hi"}
                  }
                },
                {
                  "mark": {"type": "tick", "color": "#000", "thickness": 2, "size": 12},
                  "encoding": {
                    "x": {"field": "virus", "type": "nominal", "sort": ["Mock", "CA/04", "Escape", "G172E", "E212A", "G172E/E212A"], "axis": null},
                    "y": {"field": "hi", "type": "quantitative",
                      "axis": {"title": "Percentage of positive cells", "values": [0, 20, 40, 60, 80, 100], "labelOverlap": false, "titleFontSize": 15, "titleFontWeight": "bold", "labelFontSize": 13, "domainWidth": 2, "tickWidth": 2, "tickSize": 4, "labelPadding": 1, "titlePadding": 4}}
                  }
                }
              ],
              "resolve": {"axis": {"x": "independent"}}
            }
          ]
        },
        {
          "bounds": "flush",
          "spacing": 85,
          "hconcat": [
            {
              "width": 238,
              "height": 230,
              "title": {"text": "(D)", "anchor": "start", "frame": "group", "dx": -79, "offset": 26},
              "layer": [
                {
                  "data": {"values": [{}]},
                  "mark": {"type": "rect", "color": "#e0e0e0"},
                  "encoding": {
                    "x": {"datum": "Virus", "type": "nominal", "bandPosition": 0, "scale": {"type": "band", "domain": ["Virus", "Neutralization titer", "HI titer"], "range": [-69, 238], "paddingInner": 0, "paddingOuter": 0}, "axis": null},
                    "x2": {"datum": "HI titer", "bandPosition": 1},
                    "y": {"datum": "gap", "type": "nominal", "bandPosition": 0.7, "scale": {"type": "band", "domain": ["title", "gap", "header", "CA/04", "G172E", "E212A", "G172E/E212A", "Escape"], "paddingInner": 0, "paddingOuter": 0.26, "align": 1}, "axis": null},
                    "y2": {"datum": "header", "bandPosition": 1}
                  }
                },
                {
                  "data": {"name": "table"},
                  "transform": [{"filter": "datum.virus === 'G172E' || datum.virus === 'G172E/E212A'"}],
                  "mark": {"type": "rect", "color": "#e3e3e3"},
                  "encoding": {
                    "x": {"datum": "Virus", "type": "nominal", "bandPosition": 0},
                    "x2": {"datum": "HI titer", "bandPosition": 1},
                    "y": {"field": "virus", "type": "nominal"}
                  }
                },
                {
                  "data": {"values": [{}]},
                  "mark": {"type": "rule", "color": "#222", "strokeWidth": 2},
                  "encoding": {
                    "x": {"datum": "Virus", "type": "nominal", "bandPosition": 0},
                    "x2": {"datum": "HI titer", "bandPosition": 1},
                    "y": {"datum": "gap", "type": "nominal", "bandPosition": 0.7}
                  }
                },
                {
                  "data": {"values": [{}]},
                  "mark": {"type": "rule", "color": "#222", "strokeWidth": 1.2},
                  "encoding": {
                    "x": {"datum": "Virus", "type": "nominal", "bandPosition": 0},
                    "x2": {"datum": "HI titer", "bandPosition": 1},
                    "y": {"datum": "header", "type": "nominal", "bandPosition": 1}
                  }
                },
                {
                  "data": {"values": [{}]},
                  "mark": {"type": "rule", "color": "#222", "strokeWidth": 2},
                  "encoding": {
                    "x": {"datum": "Virus", "type": "nominal", "bandPosition": 0},
                    "x2": {"datum": "HI titer", "bandPosition": 1},
                    "y": {"datum": "Escape", "type": "nominal", "bandPosition": 1}
                  }
                },
                {
                  "data": {"values": [{}]},
                  "mark": {"type": "text", "fontSize": 14, "fontWeight": "bold", "baseline": "middle", "align": "center", "color": "#111"},
                  "encoding": {
                    "x": {"datum": "Neutralization titer", "type": "nominal", "bandPosition": 0.5},
                    "y": {"datum": "title", "type": "nominal", "bandPosition": 0.8},
                    "text": {"value": "53C10 Ab’s neutralization and HI activities"}
                  }
                },
                {
                  "data": {"values": [{}]},
                  "mark": {"type": "text", "fontSize": 15, "fontWeight": "bold", "baseline": "middle", "align": "left", "color": "#111"},
                  "encoding": {
                    "x": {"datum": "Virus", "type": "nominal", "bandPosition": 0.147},
                    "y": {"datum": "header", "type": "nominal", "bandPosition": 0.35},
                    "text": {"value": "Virus"}
                  }
                },
                {
                  "data": {"values": [{}]},
                  "mark": {"type": "text", "fontSize": 14.5, "fontWeight": "bold", "baseline": "middle", "align": "center", "lineHeight": 15, "color": "#111"},
                  "encoding": {
                    "x": {"datum": "Neutralization titer", "type": "nominal", "bandPosition": 0.66},
                    "y": {"datum": "header", "type": "nominal", "bandPosition": 0.35},
                    "text": {"value": ["Neutralization", "titer"]}
                  }
                },
                {
                  "data": {"values": [{}]},
                  "mark": {"type": "text", "fontSize": 15, "fontWeight": "bold", "baseline": "middle", "align": "center", "color": "#111"},
                  "encoding": {
                    "x": {"datum": "HI titer", "type": "nominal", "bandPosition": 0.64},
                    "y": {"datum": "header", "type": "nominal", "bandPosition": 0.35},
                    "text": {"value": "HI titer"}
                  }
                },
                {
                  "data": {"name": "table"},
                  "mark": {"type": "text", "fontSize": 14, "baseline": "middle", "align": "left", "color": "#111"},
                  "encoding": {
                    "x": {"datum": "Virus", "type": "nominal", "bandPosition": 0.147},
                    "y": {"field": "virus", "type": "nominal"},
                    "text": {"field": "virus"}
                  }
                },
                {
                  "data": {"name": "table"},
                  "mark": {"type": "text", "fontSize": 14, "baseline": "middle", "align": "center", "color": "#111"},
                  "encoding": {
                    "x": {"datum": "Neutralization titer", "type": "nominal", "bandPosition": 0.66},
                    "y": {"field": "virus", "type": "nominal"},
                    "text": {"field": "neut"}
                  }
                },
                {
                  "data": {"name": "table"},
                  "mark": {"type": "text", "fontSize": 14, "baseline": "middle", "align": "center", "color": "#111"},
                  "encoding": {
                    "x": {"datum": "HI titer", "type": "nominal", "bandPosition": 0.64},
                    "y": {"field": "virus", "type": "nominal"},
                    "text": {"field": "hi"}
                  }
                }
              ]
            },
            {
              "width": 210,
              "height": 197,
              "title": {"text": "(E)", "anchor": "start", "frame": "group", "dx": -52, "offset": 0},
              "data": {"name": "growth"},
              "layer": [
                {
                  "mark": {"type": "line", "strokeWidth": 1.5},
                  "encoding": {
                    "x": {"field": "hours", "type": "quantitative", "scale": {"domain": [0, 60], "nice": false},
                      "axis": {"values": [0, 12, 24, 36, 48, 60], "title": "Hours post infection", "titleFont": "Liberation Sans Narrow, Liberation Sans", "titleFontSize": 16, "titleFontWeight": "bold", "labelFont": "DejaVu Sans", "labelFontSize": 14, "labelFlush": false, "labelOverlap": false, "domainWidth": 2, "tickWidth": 2, "tickSize": 4, "labelPadding": 0, "titlePadding": 3}},
                    "y": {"field": "mean", "type": "quantitative", "scale": {"domain": [0, 10], "nice": false},
                      "axis": {"values": [0, 2, 4, 6, 8, 10], "title": "Virus titer (Log₁₀TCID₅₀/ml)", "titleFontSize": 16, "titleFontWeight": "bold", "labelFont": "DejaVu Sans", "labelFontSize": 15, "labelFlush": false, "labelOverlap": false, "domainWidth": 2, "tickWidth": 2, "tickSize": 5, "labelPadding": 2, "titlePadding": 6}},
                    "color": {"field": "series", "type": "nominal", "scale": {"domain": ["G172E", "Escape", "G172E/E212A", "E212A", "CA/04"], "range": ["#e8262a", "#1fa54c", "#4a48a8", "#000000", "#000000"]}, "legend": null}
                  }
                },
                {
                  "mark": {"type": "rule", "strokeWidth": 1.5},
                  "encoding": {
                    "x": {"field": "hours", "type": "quantitative",
                      "axis": {"values": [0, 12, 24, 36, 48, 60], "title": "Hours post infection", "titleFont": "Liberation Sans Narrow, Liberation Sans", "titleFontSize": 16, "titleFontWeight": "bold", "labelFont": "DejaVu Sans", "labelFontSize": 14, "labelFlush": false, "labelOverlap": false, "domainWidth": 2, "tickWidth": 2, "tickSize": 4, "labelPadding": 0, "titlePadding": 3}},
                    "y": {"field": "lo", "type": "quantitative",
                      "axis": {"values": [0, 2, 4, 6, 8, 10], "title": "Virus titer (Log₁₀TCID₅₀/ml)", "titleFontSize": 16, "titleFontWeight": "bold", "labelFont": "DejaVu Sans", "labelFontSize": 15, "labelFlush": false, "labelOverlap": false, "domainWidth": 2, "tickWidth": 2, "tickSize": 5, "labelPadding": 2, "titlePadding": 6}},
                    "y2": {"field": "hi"},
                    "color": {"field": "series", "type": "nominal", "scale": {"domain": ["G172E", "Escape", "G172E/E212A", "E212A", "CA/04"], "range": ["#e8262a", "#1fa54c", "#4a48a8", "#000000", "#000000"]}, "legend": null}
                  }
                },
                {
                  "mark": {"type": "tick", "orient": "horizontal", "size": 7, "thickness": 1.5},
                  "encoding": {
                    "x": {"field": "hours", "type": "quantitative",
                      "axis": {"values": [0, 12, 24, 36, 48, 60], "title": "Hours post infection", "titleFont": "Liberation Sans Narrow, Liberation Sans", "titleFontSize": 16, "titleFontWeight": "bold", "labelFont": "DejaVu Sans", "labelFontSize": 14, "labelFlush": false, "labelOverlap": false, "domainWidth": 2, "tickWidth": 2, "tickSize": 4, "labelPadding": 0, "titlePadding": 3}},
                    "y": {"field": "hi", "type": "quantitative",
                      "axis": {"values": [0, 2, 4, 6, 8, 10], "title": "Virus titer (Log₁₀TCID₅₀/ml)", "titleFontSize": 16, "titleFontWeight": "bold", "labelFont": "DejaVu Sans", "labelFontSize": 15, "labelFlush": false, "labelOverlap": false, "domainWidth": 2, "tickWidth": 2, "tickSize": 5, "labelPadding": 2, "titlePadding": 6}},
                    "color": {"field": "series", "type": "nominal", "scale": {"domain": ["G172E", "Escape", "G172E/E212A", "E212A", "CA/04"], "range": ["#e8262a", "#1fa54c", "#4a48a8", "#000000", "#000000"]}, "legend": null}
                  }
                },
                {
                  "mark": {"type": "tick", "orient": "horizontal", "size": 7, "thickness": 1.5},
                  "encoding": {
                    "x": {"field": "hours", "type": "quantitative",
                      "axis": {"values": [0, 12, 24, 36, 48, 60], "title": "Hours post infection", "titleFont": "Liberation Sans Narrow, Liberation Sans", "titleFontSize": 16, "titleFontWeight": "bold", "labelFont": "DejaVu Sans", "labelFontSize": 14, "labelFlush": false, "labelOverlap": false, "domainWidth": 2, "tickWidth": 2, "tickSize": 4, "labelPadding": 0, "titlePadding": 3}},
                    "y": {"field": "lo", "type": "quantitative",
                      "axis": {"values": [0, 2, 4, 6, 8, 10], "title": "Virus titer (Log₁₀TCID₅₀/ml)", "titleFontSize": 16, "titleFontWeight": "bold", "labelFont": "DejaVu Sans", "labelFontSize": 15, "labelFlush": false, "labelOverlap": false, "domainWidth": 2, "tickWidth": 2, "tickSize": 5, "labelPadding": 2, "titlePadding": 6}},
                    "color": {"field": "series", "type": "nominal", "scale": {"domain": ["G172E", "Escape", "G172E/E212A", "E212A", "CA/04"], "range": ["#e8262a", "#1fa54c", "#4a48a8", "#000000", "#000000"]}, "legend": null}
                  }
                },
                {
                  "mark": {"type": "point", "filled": true, "size": 48, "strokeWidth": 1.3, "opacity": 1},
                  "encoding": {
                    "x": {"field": "hours", "type": "quantitative",
                      "axis": {"values": [0, 12, 24, 36, 48, 60], "title": "Hours post infection", "titleFont": "Liberation Sans Narrow, Liberation Sans", "titleFontSize": 16, "titleFontWeight": "bold", "labelFont": "DejaVu Sans", "labelFontSize": 14, "labelFlush": false, "labelOverlap": false, "domainWidth": 2, "tickWidth": 2, "tickSize": 4, "labelPadding": 0, "titlePadding": 3}},
                    "y": {"field": "mean", "type": "quantitative",
                      "axis": {"values": [0, 2, 4, 6, 8, 10], "title": "Virus titer (Log₁₀TCID₅₀/ml)", "titleFontSize": 16, "titleFontWeight": "bold", "labelFont": "DejaVu Sans", "labelFontSize": 15, "labelFlush": false, "labelOverlap": false, "domainWidth": 2, "tickWidth": 2, "tickSize": 5, "labelPadding": 2, "titlePadding": 6}},
                    "shape": {"field": "series", "type": "nominal", "scale": {"domain": ["G172E", "Escape", "G172E/E212A", "E212A", "CA/04"], "range": ["circle", "triangle-up", "diamond", "square", "triangle-down"]}, "legend": null},
                    "fill": {"field": "series", "type": "nominal", "scale": {"domain": ["G172E", "Escape", "G172E/E212A", "E212A", "CA/04"], "range": ["#e8262a", "#1fa54c", "#4a48a8", "#ffff00", "#000000"]}, "legend": null},
                    "stroke": {"field": "series", "type": "nominal", "scale": {"domain": ["G172E", "Escape", "G172E/E212A", "E212A", "CA/04"], "range": ["#e8262a", "#1fa54c", "#4a48a8", "#000000", "#000000"]}, "legend": null}
                  }
                },
                {
                  "transform": [{"filter": "datum.hours < 0"}],
                  "mark": {"type": "point", "filled": true, "size": 196, "strokeWidth": 1.5, "opacity": 1},
                  "encoding": {
                    "x": {"field": "hours", "type": "quantitative",
                      "axis": {"values": [0, 12, 24, 36, 48, 60], "title": "Hours post infection", "titleFont": "Liberation Sans Narrow, Liberation Sans", "titleFontSize": 16, "titleFontWeight": "bold", "labelFont": "DejaVu Sans", "labelFontSize": 14, "labelFlush": false, "labelOverlap": false, "domainWidth": 2, "tickWidth": 2, "tickSize": 4, "labelPadding": 0, "titlePadding": 3}},
                    "y": {"field": "mean", "type": "quantitative",
                      "axis": {"values": [0, 2, 4, 6, 8, 10], "title": "Virus titer (Log₁₀TCID₅₀/ml)", "titleFontSize": 16, "titleFontWeight": "bold", "labelFont": "DejaVu Sans", "labelFontSize": 15, "labelFlush": false, "labelOverlap": false, "domainWidth": 2, "tickWidth": 2, "tickSize": 5, "labelPadding": 2, "titlePadding": 6}},
                    "shape": {"field": "series", "type": "nominal", "scale": {"domain": ["G172E", "Escape", "G172E/E212A", "E212A", "CA/04"], "range": [
                      "M-1.1,0H1.1M0.4,0A0.4,0.4,0,1,1,-0.4,0A0.4,0.4,0,1,1,0.4,0Z",
                      "M-1.1,0H1.1M0,-0.48L0.45,0.32H-0.45Z",
                      "M-1.1,0H1.1M0,-0.5L0.45,0L0,0.5L-0.45,0Z",
                      "M-1.1,0H1.1M-0.48,-0.48H0.48V0.48H-0.48Z",
                      "M-1.1,0H1.1M0,0.48L0.45,-0.32H-0.45Z"]},
                      "legend": {"title": null, "orient": "none", "legendX": 97, "legendY": 104, "labelFont": "DejaVu Sans", "labelFontSize": 13.5, "labelColor": "#000", "symbolSize": 196, "symbolStrokeWidth": 1.5, "rowPadding": 0, "labelOffset": 3, "padding": 0, "symbolOpacity": 1}},
                    "fill": {"field": "series", "type": "nominal", "scale": {"domain": ["G172E", "Escape", "G172E/E212A", "E212A", "CA/04"], "range": ["#e8262a", "#1fa54c", "#4a48a8", "#ffff00", "#000000"]},
                      "legend": {"title": null, "orient": "none", "legendX": 97, "legendY": 104, "labelFont": "DejaVu Sans", "labelFontSize": 13.5, "labelColor": "#000", "symbolSize": 196, "symbolStrokeWidth": 1.5, "rowPadding": 0, "labelOffset": 3, "padding": 0, "symbolOpacity": 1}},
                    "stroke": {"field": "series", "type": "nominal", "scale": {"domain": ["G172E", "Escape", "G172E/E212A", "E212A", "CA/04"], "range": ["#e8262a", "#1fa54c", "#4a48a8", "#000000", "#000000"]},
                      "legend": {"title": null, "orient": "none", "legendX": 97, "legendY": 104, "labelFont": "DejaVu Sans", "labelFontSize": 13.5, "labelColor": "#000", "symbolSize": 196, "symbolStrokeWidth": 1.5, "rowPadding": 0, "labelOffset": 3, "padding": 0, "symbolOpacity": 1}}
                  }
                }
              ],
              "resolve": {"scale": {"shape": "independent", "fill": "independent", "stroke": "independent", "color": "independent"}}
            }
          ]
        }
      ]
    }
  ]
}
